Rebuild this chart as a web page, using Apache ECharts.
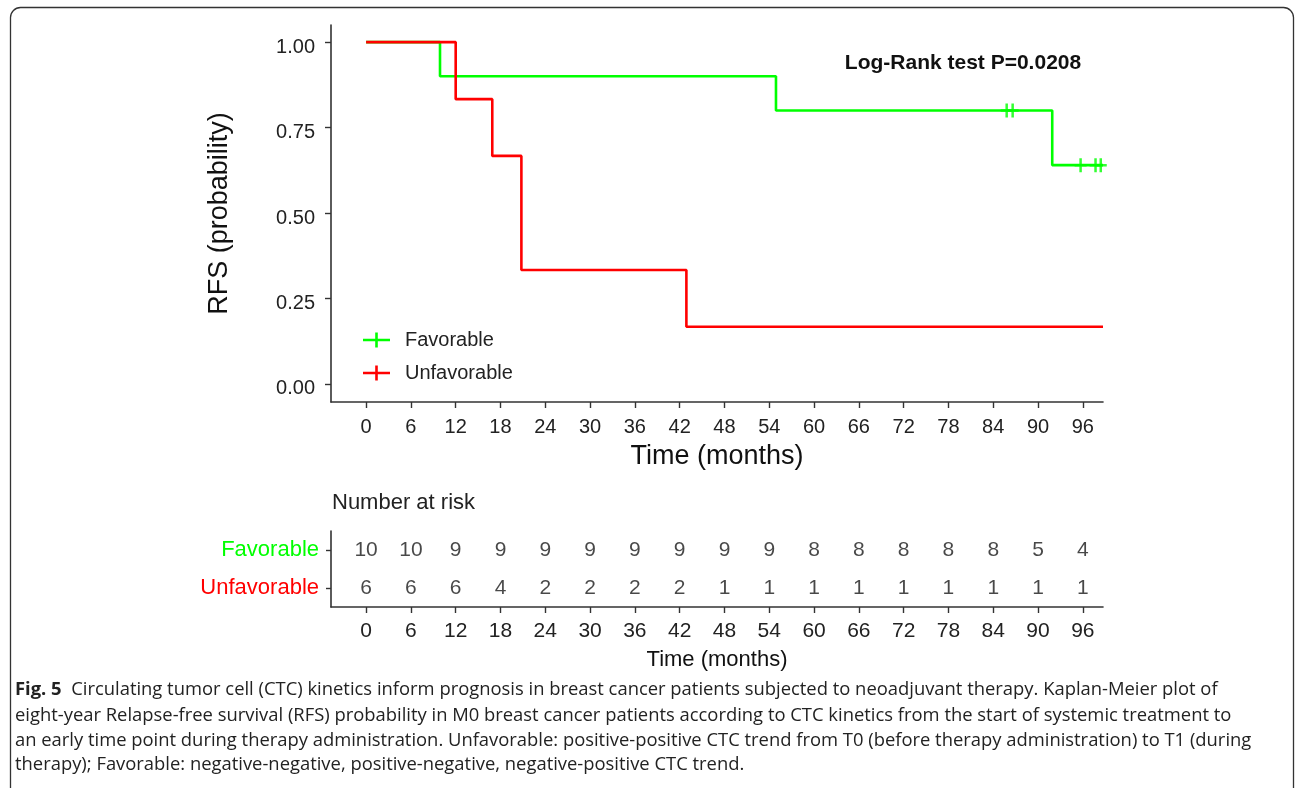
<!DOCTYPE html>
<html>
<head>
<meta charset="utf-8">
<title>KM plot</title>
<script src="https://cdn.jsdelivr.net/npm/echarts@6/dist/echarts.min.js"></script>
<style>
  html, body { margin: 0; padding: 0; background: #fff; }
  #main { width: 1295px; height: 788px; }
</style>
</head>
<body>
<div id="main"></div>
<script>
// data
var timeTicks = [0, 6, 12, 18, 24, 30, 36, 42, 48, 54, 60, 66, 72, 78, 84, 90, 96];
var survTicks = [0, 0.25, 0.5, 0.75, 1];
var groups = ['Favorable', 'Unfavorable'];

// Favorable curve (step points) + censor marks
var favTime = [0, 9.9, 54.9, 91.9, 98.7];
var favSurv = [1, 0.9, 0.8, 0.64, 0.64];
var favCensorTime = [85.8, 86.6, 95.7, 97.7, 98.4];
var favCensorSurv = [0.8, 0.8, 0.64, 0.64, 0.64];

// Unfavorable curve
var unfTime = [0, 12, 16.9, 20.8, 42.9, 98.7];
var unfSurv = [1, 0.833, 0.667, 0.333, 0.167, 0.167];

// number at risk table
var riskFav = [10, 10, 9, 9, 9, 9, 9, 9, 9, 9, 8, 8, 8, 8, 8, 5, 4];
var riskUnf = [6, 6, 6, 4, 2, 2, 2, 2, 1, 1, 1, 1, 1, 1, 1, 1, 1];

var pText = 'Log-Rank test P=0.0208';
var captionLines = [
  '{b|Fig. 5}  Circulating tumor cell (CTC) kinetics inform prognosis in breast cancer patients subjected to neoadjuvant therapy. Kaplan-Meier plot of',
  'eight-year Relapse-free survival (RFS) probability in M0 breast cancer patients according to CTC kinetics from the start of systemic treatment to',
  'an early time point during therapy administration. Unfavorable: positive-positive CTC trend from T0 (before therapy administration) to T1 (during',
  'therapy); Favorable: negative-negative, positive-negative, negative-positive CTC trend.'
];

var GREEN = '#00ff00', RED = '#ff0000', AXIS = '#333';
var FONT = '"Liberation Sans", Arial, sans-serif';
var CAPFONT = '"Open Sans", sans-serif';

function pairs(xs, ys) {
  var out = [];
  for (var i = 0; i < xs.length; i++) out.push([xs[i], ys[i]]);
  return out;
}

var riskData = [];
for (var i = 0; i < timeTicks.length; i++) {
  riskData.push([timeTicks[i], groups[0], riskFav[i]]);
  riskData.push([timeTicks[i], groups[1], riskUnf[i]]);
}

var myChart = echarts.init(document.getElementById('main'));

function timeAxis(grid, nameSize, labelSize, gap, margin) {
  return {
    gridIndex: grid,
    type: 'value',
    min: -4.7,
    max: 98.7,
    name: 'Time (months)',
    nameLocation: 'middle',
    nameGap: gap,
    nameTextStyle: { fontSize: nameSize, color: '#111', fontFamily: FONT },
    axisLine: { show: true, onZero: false, lineStyle: { color: AXIS, width: 1.6 } },
    axisTick: { show: true, customValues: timeTicks, length: 6, lineStyle: { color: AXIS, width: 1.4 } },
    axisLabel: { show: true, customValues: timeTicks, fontSize: labelSize, color: '#222', margin: margin, fontFamily: FONT },
    splitLine: { show: false }
  };
}

var option = {
  animation: false,
  textStyle: { fontFamily: FONT },
  grid: [
    { left: 331, top: 25, width: 772, height: 377 },
    { left: 331, top: 531, width: 772, height: 76 }
  ],
  xAxis: [
    timeAxis(0, 27, 20, 41, 15),
    timeAxis(1, 22, 21, 42, 14)
  ],
  yAxis: [
    {
      gridIndex: 0,
      type: 'value',
      min: -0.053,
      max: 1.05,
      name: 'RFS (probability)',
      nameLocation: 'middle',
      nameGap: 98,
      nameTextStyle: { fontSize: 27, color: '#111', fontFamily: FONT },
      axisLine: { show: true, onZero: false, lineStyle: { color: AXIS, width: 1.6 } },
      axisTick: { show: true, customValues: survTicks, length: 6, lineStyle: { color: AXIS, width: 1.4 } },
      axisLabel: {
        customValues: survTicks, fontSize: 20, color: '#222', margin: 16, fontFamily: FONT,
        verticalAlign: 'top', lineHeight: 10,
        formatter: function (v) { return v.toFixed(2); }
      },
      splitLine: { show: false }
    },
    {
      gridIndex: 1,
      type: 'category',
      data: groups,
      inverse: true,
      axisLine: { show: true, onZero: false, lineStyle: { color: AXIS, width: 1.6 } },
      axisTick: { show: true, alignWithLabel: true, length: 5, lineStyle: { color: AXIS, width: 1.4 } },
      axisLabel: {
        fontSize: 22, margin: 12, fontFamily: FONT,
        color: function (v) { return v === 'Favorable' ? GREEN : RED; }
      },
      splitLine: { show: false }
    }
  ],
  legend: {
    data: groups,
    orient: 'vertical',
    left: 363,
    top: 330,
    padding: 0,
    itemGap: 13,
    itemWidth: 27,
    itemHeight: 15,
    icon: 'path://M0,6.2H27V8.8H0Z M12.2,0H14.8V15H12.2Z',
    textStyle: { fontSize: 20, color: '#222', fontFamily: FONT, lineHeight: 20, padding: [0, 0, 0, 10] }
  },
  series: [
    {
      name: 'Favorable',
      type: 'line',
      step: 'end',
      showSymbol: false,
      data: pairs(favTime, favSurv),
      itemStyle: { color: GREEN },
      lineStyle: { color: GREEN, width: 2.6 }
    },
    {
      name: 'Favorable',
      type: 'scatter',
      symbol: 'path://M4.75,0H7.25V5.75H12V8.25H7.25V14H4.75V8.25H0V5.75H4.75Z',
      symbolSize: [12, 14],
      data: pairs(favCensorTime, favCensorSurv),
      itemStyle: { color: GREEN }
    },
    {
      name: 'Unfavorable',
      type: 'line',
      step: 'end',
      showSymbol: false,
      data: pairs(unfTime, unfSurv),
      itemStyle: { color: RED },
      lineStyle: { color: RED, width: 2.6 }
    },
    {
      name: 'risk',
      type: 'scatter',
      xAxisIndex: 1,
      yAxisIndex: 1,
      symbolSize: 0,
      data: riskData,
      label: {
        show: true,
        position: 'inside',
        fontSize: 21,
        color: '#1a1a1a',
        fontFamily: FONT,
        formatter: function (p) { return p.value[2]; }
      }
    }
  ],
  graphic: [
    {
      type: 'rect',
      silent: true,
      z: -10,
      shape: { x: 10.5, y: 7.5, width: 1283, height: 800, r: 10 },
      style: { fill: 'none', stroke: '#333', lineWidth: 1.3 }
    },
    {
      type: 'text',
      style: { x: 963, y: 63, text: pText, textAlign: 'center', textVerticalAlign: 'middle',
        font: 'bold 21px ' + FONT, fill: '#111' }
    },
    {
      type: 'text',
      style: { x: 332, y: 503, text: 'Number at risk', textAlign: 'left', textVerticalAlign: 'middle',
        font: '22px ' + FONT, fill: '#222' }
    }
  ]
};

// caption lines under the figure
var capY = [690, 716, 741, 765];
for (var k = 0; k < captionLines.length; k++) {
  option.graphic.push({
    type: 'text',
    style: {
      x: 15, y: capY[k], text: captionLines[k],
      textAlign: 'left', textVerticalAlign: 'middle',
      font: '18.4px ' + CAPFONT, fill: '#222',
      rich: { b: { fontWeight: 'bold', fontSize: 18.4, fontFamily: CAPFONT, fill: '#222' } }
    }
  });
}

myChart.setOption(option);
</script>
</body>
</html>
